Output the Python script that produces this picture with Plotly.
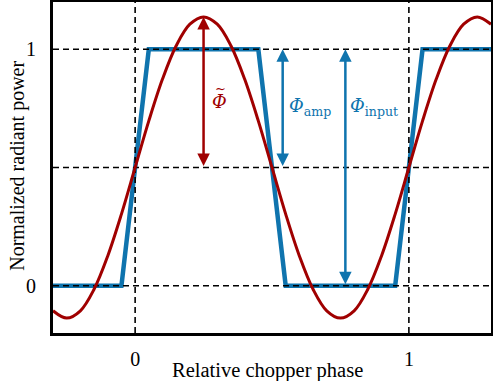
import plotly.graph_objects as go

# Data
square_x = [-0.3, -0.05, 0.05, 0.45, 0.55, 0.95, 1.05, 1.3]
square_y = [0, 0, 1, 1, 0, 0, 1, 1]

sine_x = [-0.30, -0.25, -0.20, -0.15, -0.10, -0.05, 0.00, 0.05, 0.10, 0.15, 0.20,
          0.25, 0.30, 0.35, 0.40, 0.45, 0.50, 0.55, 0.60, 0.65, 0.70, 0.75,
          0.80, 0.85, 0.90, 0.95, 1.00, 1.05, 1.10, 1.15, 1.20, 1.25, 1.30]
sine_y = [-0.106, -0.137, -0.106, -0.015, 0.126, 0.303, 0.500, 0.697, 0.874, 1.015, 1.106,
          1.137, 1.106, 1.015, 0.874, 0.697, 0.500, 0.303, 0.126, -0.015, -0.106, -0.137,
          -0.106, -0.015, 0.126, 0.303, 0.500, 0.697, 0.874, 1.015, 1.106, 1.137, 1.106]

h_levels = [0, 0.5, 1]
v_levels = [0, 1]
x_range = [-0.3, 1.3]
y_range = [-0.2, 1.2]
x_ticks = [0, 1]
y_ticks = [0, 1]

BLUE = "#0f74ae"
RED = "#a00000"
FONT = "Liberation Serif"

fig = go.Figure()
fig.add_trace(go.Scatter(x=square_x, y=square_y, mode="lines",
                         line=dict(color=BLUE, width=4.5), hoverinfo="skip"))
for h in h_levels:
    fig.add_trace(go.Scatter(x=x_range, y=[h, h], mode="lines",
                             line=dict(color="black", width=1.6, dash="6px,4px")))
for v in v_levels:
    fig.add_trace(go.Scatter(x=[v, v], y=y_range, mode="lines",
                             line=dict(color="black", width=1.6, dash="6px,4px")))
fig.add_trace(go.Scatter(x=sine_x, y=sine_y, mode="lines",
                         line=dict(color=RED, width=3, shape="spline"), hoverinfo="skip"))

# arrows: (x, y_start, y_end, color)
arrows = [(0.25, 0.5, 1.137, RED), (0.539, 0.5, 1.0, BLUE), (0.768, 0.0, 1.0, BLUE)]
for ax_, y0, y1, c in arrows:
    fig.add_annotation(x=ax_, y=y1, ax=ax_, ay=y0, xref="x", yref="y", axref="x", ayref="y",
                       text="", showarrow=True, arrowhead=2, startarrowhead=2,
                       arrowside="end+start", arrowwidth=2.5, arrowsize=1, startarrowsize=1,
                       arrowcolor=c, standoff=0, startstandoff=0)

fig.add_annotation(x=0.309, y=0.78, xref="x", yref="y", text="<i>Φ</i>", showarrow=False,
                   font=dict(family="DejaVu Serif", size=18, color=RED))
fig.add_annotation(x=0.311, y=0.835, xref="x", yref="y", text="~", showarrow=False,
                   font=dict(family="DejaVu Serif", size=13, color=RED))
fig.add_annotation(x=0.553, y=0.755, xref="x", yref="y", xanchor="left",
                   text="<i>Φ</i><sub>amp</sub>", showarrow=False,
                   font=dict(family="DejaVu Serif", size=18, color=BLUE))
fig.add_annotation(x=0.778, y=0.755, xref="x", yref="y", xanchor="left",
                   text="<i>Φ</i><sub>input</sub>", showarrow=False,
                   font=dict(family="DejaVu Serif", size=18, color=BLUE))

# axis titles
fig.add_annotation(x=0.49, y=-0.112, xref="paper", yref="paper", text="Relative chopper phase",
                   showarrow=False, yanchor="middle", font=dict(family=FONT, size=20.5))
fig.add_annotation(x=-0.08, y=0.505, xref="paper", yref="paper", text="Normalized radiant power",
                   showarrow=False, textangle=-90, xanchor="center", yanchor="middle",
                   font=dict(family=FONT, size=20))

fig.update_layout(
    width=493, height=381,
    margin=dict(l=53, r=2, t=2, b=48),
    paper_bgcolor="white", plot_bgcolor="white",
    showlegend=False,
    font=dict(family=FONT, size=20, color="black"),
)
fig.update_xaxes(range=x_range, tickvals=x_ticks, ticktext=["0", "1"], showgrid=False,
                 zeroline=False, showline=True, mirror=True, linecolor="black", linewidth=3,
                 ticks="", ticklabelstandoff=6, automargin=False)
fig.update_yaxes(range=y_range, tickvals=y_ticks, ticktext=["0", "1"], showgrid=False,
                 zeroline=False, showline=True, mirror=True, linecolor="black", linewidth=3,
                 ticks="", ticklabelstandoff=10, automargin=False)

fig.write_html("out.html", config={"displayModeBar": False},
               post_script="document.body.style.margin='0';document.body.style.overflow='hidden';")
